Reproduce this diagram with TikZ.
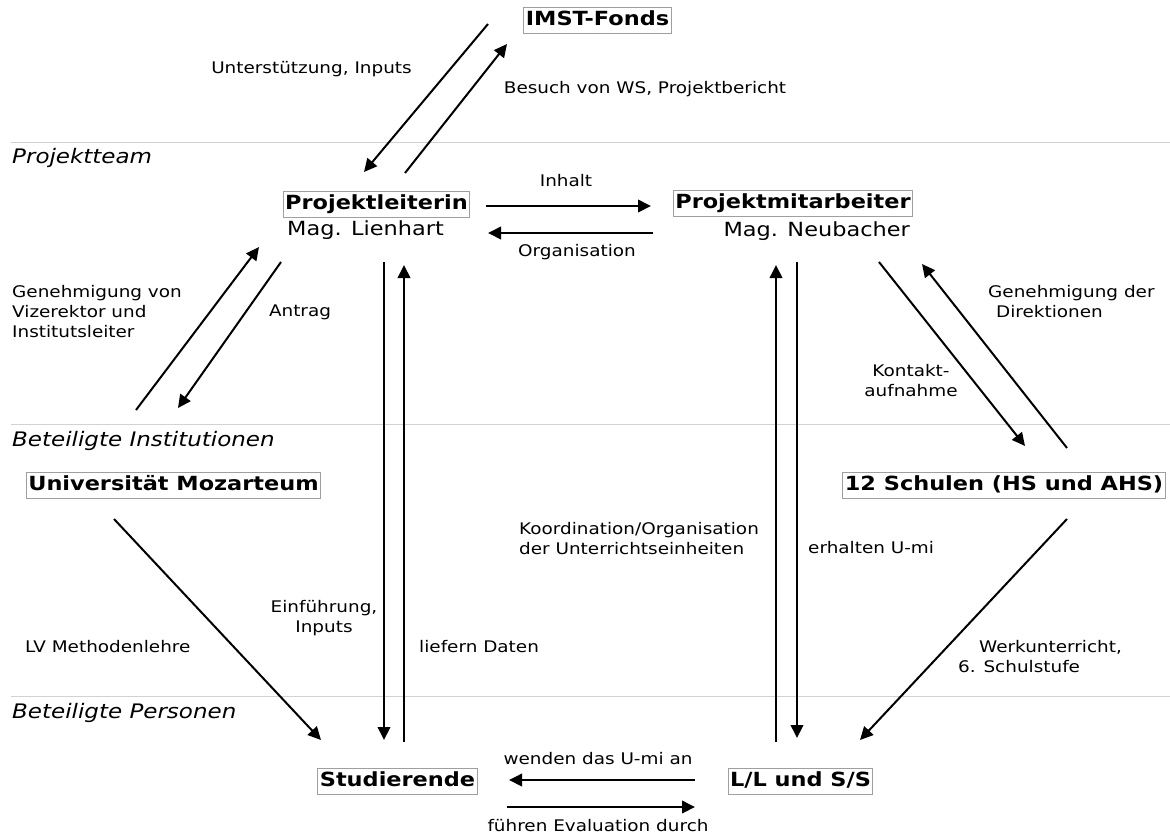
\documentclass[tikz,border=0pt]{standalone}
\usepackage{fontspec}
\setmainfont{DejaVu Sans}[FakeStretch=1.15,BoldFont={DejaVu Sans Bold},ItalicFont={DejaVu Sans Oblique}]
\usetikzlibrary{arrows.meta}

\begin{document}
\begin{tikzpicture}[x=1pt,y=-1pt,
    box/.style={draw=gray!75,line width=0.9pt,inner xsep=2pt,inner ysep=3.5pt,
        text height=14.5pt,text depth=4.5pt,font=\fontsize{19.5}{23}\selectfont\bfseries},
    person/.style={inner sep=0pt,font=\fontsize{19.5}{23}\selectfont},
    lbl/.style={inner sep=0pt,align=left,font=\fontsize{16}{20}\selectfont},
    sect/.style={inner sep=0pt,anchor=west,font=\fontsize{20}{24}\selectfont\itshape},
    sep/.style={gray!35,line width=0.8pt},
    >={Triangle[length=13pt,width=12.5pt]},
    arr/.style={->,line width=2pt}]
    \useasboundingbox (0,0) rectangle (1170,835);

    \draw[sep] (11,142)--(1170,142);
    \draw[sep] (11,424)--(1170,424);
    \draw[sep] (11,696)--(1170,696);
    \node[sect] (pteam) at (12,158) {Projektteam};
    \node[sect] (inst) at (12,441) {Beteiligte Institutionen};
    \node[sect] (pers) at (12,713) {Beteiligte Personen};

    \node[box] (fonds) at (597.5,20) {IMST-Fonds};
    \node[box] (leiter) at (376.5,204) {Projektleiterin};
    \node[person,anchor=west] (lienhart) at (287,230) {Mag. Lienhart};
    \node[box] (mitarb) at (793,203) {Projektmitarbeiter};
    \node[person,anchor=east] (neubacher) at (910,231) {Mag. Neubacher};
    \node[box] (uni) at (173.5,485) {Universität Mozarteum};
    \node[box] (schulen) at (1004,485) {12 Schulen (HS und AHS)};
    \node[box] (stud) at (397.5,781.5) {Studierende};
    \node[box] (ll) at (800.5,781.5) {L/L und S/S};

    \draw[arr] ([shift={(-109.5,4)}]fonds.center)--([shift={(-12.5,-32)}]leiter.center);
    \draw[arr] ([shift={(28.5,-31)}]leiter.center)--([shift={(-90.5,24)}]fonds.center);
    \draw[arr] ([shift={(109.5,2)}]leiter.center)--([shift={(-142,3)}]mitarb.center);
    \draw[arr] ([shift={(-140,30)}]mitarb.center)--([shift={(111.5,29)}]leiter.center);
    \draw[arr] ([shift={(-37.5,-75)}]uni.center)--([shift={(-117.5,43)}]leiter.center);
    \draw[arr] ([shift={(-95.5,58)}]leiter.center)--([shift={(4.5,-77)}]uni.center);
    \draw[arr] ([shift={(7.5,58)}]leiter.center)--([shift={(-13.5,-41.5)}]stud.center);
    \draw[arr] ([shift={(6.5,-39.5)}]stud.center)--([shift={(27.5,61)}]leiter.center);
    \draw[arr] ([shift={(-24.5,-39.5)}]ll.center)--([shift={(-17,62)}]mitarb.center);
    \draw[arr] ([shift={(4,59)}]mitarb.center)--([shift={(-3.5,-43.5)}]ll.center);
    \draw[arr] ([shift={(86,59)}]mitarb.center)--([shift={(21,-39)}]schulen.center);
    \draw[arr] ([shift={(63,-37)}]schulen.center)--([shift={(129,61)}]mitarb.center);
    \draw[arr] ([shift={(-59.5,34)}]uni.center)--([shift={(-76.5,-41.5)}]stud.center);
    \draw[arr] ([shift={(63,34)}]schulen.center)--([shift={(59.5,-41.5)}]ll.center);
    \draw[arr] ([shift={(-105.5,-1.5)}]ll.center)--([shift={(111.5,-1.5)}]stud.center);
    \draw[arr] ([shift={(109.5,25.5)}]stud.center)--([shift={(-105.5,25.5)}]ll.center);

    \node[lbl] (unterst) at (311.5,69) {Unterstützung, Inputs};
    \node[lbl] (besuch) at (645,89) {Besuch von WS, Projektbericht};
    \node[lbl] (inhalt) at (566,181) {Inhalt};
    \node[lbl] (orga) at (577,252) {Organisation};
    \node[lbl,anchor=west] (genvon) at (12,312) {Genehmigung von\\Vizerektor und\\Institutsleiter};
    \node[lbl] (antrag) at (300,312) {Antrag};
    \node[lbl,anchor=west] (gendir) at (988,302) {Genehmigung der\\\hspace*{8pt}Direktionen};
    \node[lbl,align=center] (kontakt) at (911,381) {Kontakt-\\aufnahme};
    \node[lbl,anchor=west] (koord) at (519,538.5) {Koordination/Organisation\\der Unterrichtseinheiten};
    \node[lbl,anchor=west] (erhalten) at (808,548) {erhalten U-mi};
    \node[lbl,align=center] (einf) at (324,618) {Einführung,\\Inputs};
    \node[lbl,anchor=west] (lv) at (25,647) {LV Methodenlehre};
    \node[lbl,anchor=west] (liefern) at (419,647) {liefern Daten};
    \node[lbl,anchor=west] (werk) at (958,657) {\hspace*{21pt}Werkunterricht,\\6. Schulstufe};
    \node[lbl] (wenden) at (598,759) {wenden das U-mi an};
    \node[lbl] (fuehren) at (598,826) {führen Evaluation durch};
\end{tikzpicture}
\end{document}
